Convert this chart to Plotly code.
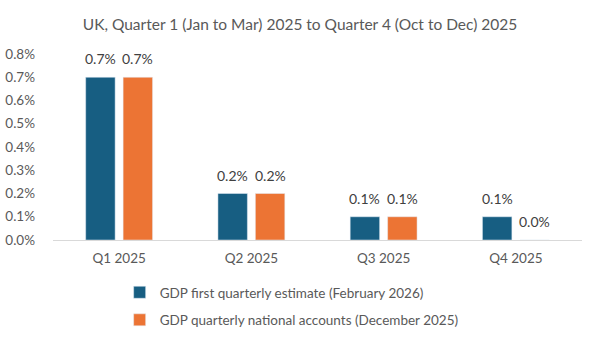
import plotly.graph_objects as go

categories = ["Q1 2025", "Q2 2025", "Q3 2025", "Q4 2025"]
first_estimate = [0.7, 0.2, 0.1, 0.1]
national_accounts = [0.7, 0.2, 0.1, 0.0]
y_ticks = [0.0, 0.1, 0.2, 0.3, 0.4, 0.5, 0.6, 0.7, 0.8]
y_tick_labels = [f"{v:.1f}%" for v in y_ticks]

BLUE = "#175E82"
ORANGE = "#EC7434"
FONT = "Lato"
GREY = "#595959"

fig = go.Figure()
fig.add_trace(go.Bar(
    x=categories, y=first_estimate,
    name="GDP first quarterly estimate (February 2026)",
    marker_color=BLUE, legendgroup="a",
))
fig.add_trace(go.Bar(
    x=categories, y=national_accounts,
    name="GDP quarterly national accounts (December 2025)",
    marker_color=ORANGE, legendgroup="b",
))

# data labels above each bar
for series, shift in ((first_estimate, -18.75), (national_accounts, 18.75)):
    for cat, v in zip(categories, series):
        fig.add_annotation(x=cat, y=v, text=f"{v:.1f}%", showarrow=False,
                           xshift=shift, yshift=8, yanchor="bottom",
                           font=dict(size=14, color="#404040", family=FONT))

fig.update_layout(
    width=600, height=341,
    margin=dict(l=53, r=18, t=54, b=101, autoexpand=False),
    paper_bgcolor="white", plot_bgcolor="white",
    title=dict(text="UK, Quarter 1 (Jan to Mar) 2025 to Quarter 4 (Oct to Dec) 2025",
               x=0.5, xanchor="center", xref="container",
               y=1 - 25 / 341, yref="container", yanchor="middle",
               font=dict(size=15.5, color=GREY, family=FONT)),
    barmode="group", bargap=0.434, bargroupgap=0.213,
    font=dict(family=FONT, color=GREY, size=13),
    showlegend=True,
    legend=dict(orientation="v", x=0.126, xanchor="left",
                y=1 - 277 / 341, yref="container", yanchor="top",
                font=dict(size=13.5, color=GREY, family=FONT),
                tracegroupgap=7, itemwidth=30),
    xaxis=dict(showline=True, linecolor="#D9D9D9", linewidth=1, showgrid=False,
               ticks="", tickfont=dict(size=13.5, color=GREY), ticklabelstandoff=6,
               automargin=False),
    yaxis=dict(range=[0, 0.8], tickvals=y_ticks, ticktext=y_tick_labels,
               showgrid=False, zeroline=False, showline=False, ticks="",
               tickfont=dict(size=13.5, color=GREY), ticklabelstandoff=17,
               automargin=False),
)

fig.write_html("out.html")
